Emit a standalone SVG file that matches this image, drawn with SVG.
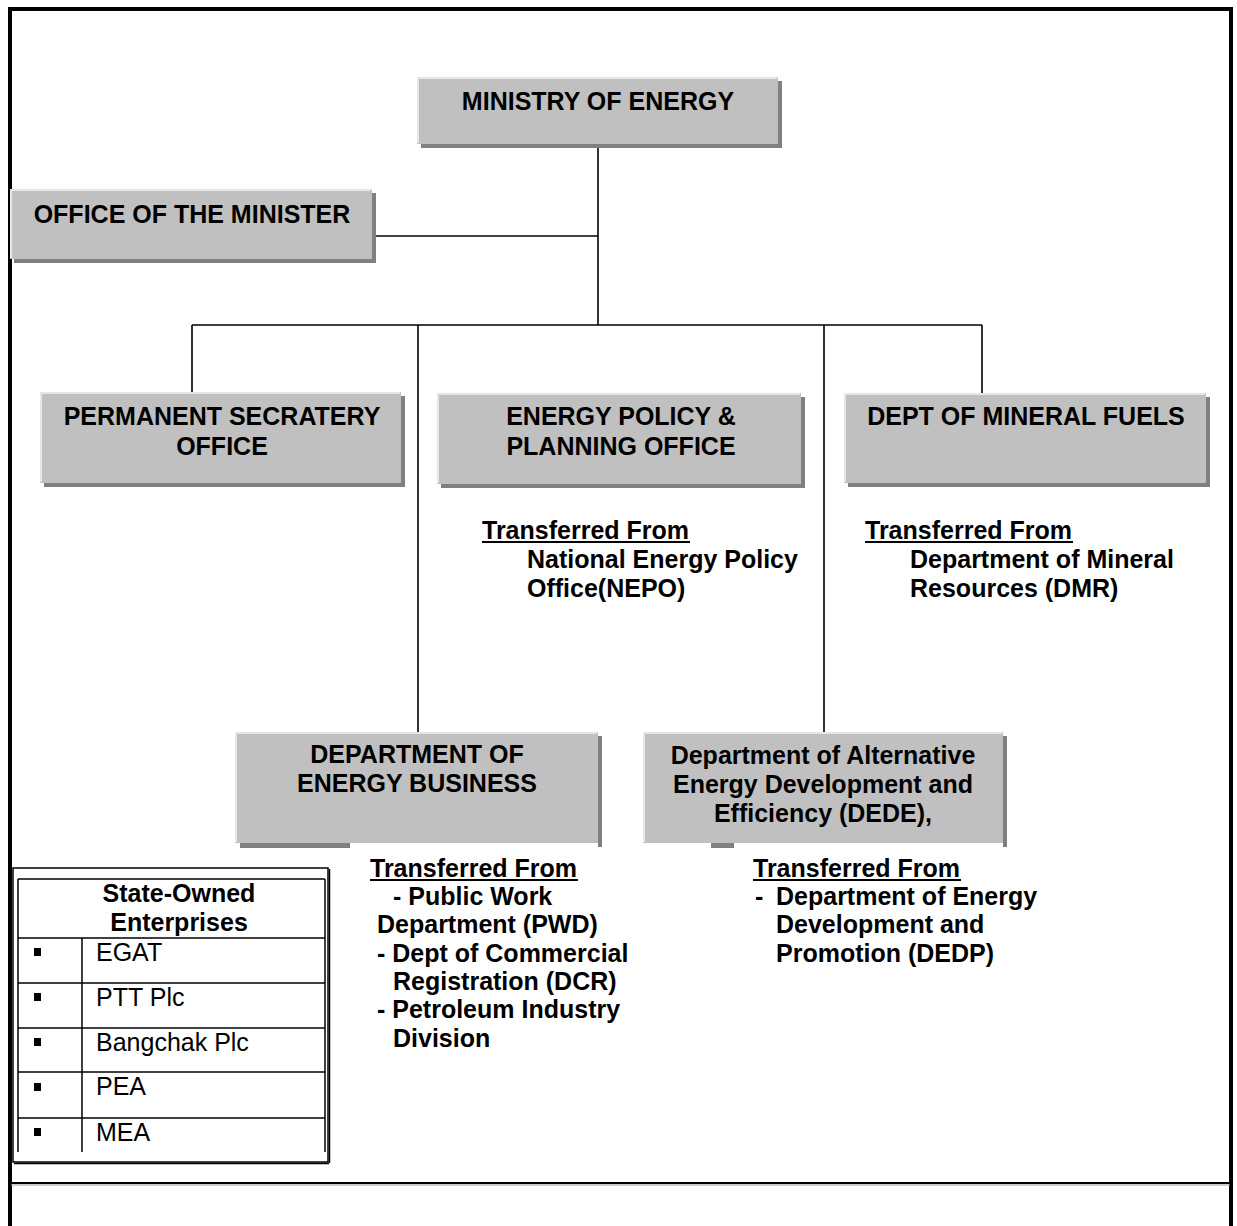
<svg xmlns="http://www.w3.org/2000/svg" width="1237" height="1226" viewBox="0 0 1237 1226">
<style>
  .box { fill: #c0c0c0; }
  .shadow { fill: #808080; }
  .hl { fill: none; stroke: #e6e6e6; stroke-width: 2; }
  .t { font-family: "Liberation Sans", Arial, sans-serif; font-size: 25px; fill: #000; }
  .b { font-weight: bold; }
  .c { text-anchor: middle; }
  .conn line { stroke: #000; stroke-width: 1.6; }
  .tbl line { stroke: #000; stroke-width: 1.5; }
  .ul { stroke: #000; stroke-width: 2; }
</style>
<rect x="0" y="0" width="1237" height="1226" fill="#ffffff"/>
<!-- outer frame -->
<g id="frame">
  <line x1="10" y1="7" x2="10" y2="1226" stroke="#000" stroke-width="4"/>
  <line x1="1231" y1="7" x2="1231" y2="1226" stroke="#000" stroke-width="4"/>
  <line x1="8" y1="9" x2="1233" y2="9" stroke="#000" stroke-width="4"/>
  <line x1="11" y1="1183" x2="1230" y2="1183" stroke="#000" stroke-width="2"/>
  <line x1="11" y1="1185" x2="1230" y2="1185" stroke="#999" stroke-width="1"/>
</g>

<!-- connectors -->
<g id="connectors" class="conn">
  <line x1="598" y1="148" x2="598" y2="325"/>
  <line x1="375" y1="236" x2="598" y2="236"/>
  <line x1="192" y1="325" x2="982" y2="325"/>
  <line x1="192" y1="325" x2="192" y2="392"/>
  <line x1="418" y1="325" x2="418" y2="732"/>
  <line x1="824" y1="325" x2="824" y2="732"/>
  <line x1="982" y1="325" x2="982" y2="393"/>
</g>

<g id="ministry">
  <rect class="shadow" x="421" y="81" width="361" height="67"/>
  <rect class="box" x="417" y="77" width="361" height="67"/>
  <polyline class="hl" points="418,143 418,78 777,78"/>
  <text class="t b c" x="598" y="110">MINISTRY OF ENERGY</text>
</g>

<g id="office-minister">
  <rect class="shadow" x="14" y="193" width="362" height="70"/>
  <rect class="box" x="10" y="189" width="362" height="70"/>
  <polyline class="hl" points="11,258 11,190 371,190"/>
  <text class="t b c" x="192" y="223">OFFICE OF THE MINISTER</text>
</g>

<g id="permanent-secretary">
  <rect class="shadow" x="44" y="396" width="361" height="91"/>
  <rect class="box" x="40" y="392" width="361" height="91"/>
  <polyline class="hl" points="41,482 41,393 400,393"/>
  <text class="t b c" x="222" y="425">PERMANENT SECRATERY</text>
  <text class="t b c" x="222" y="455">OFFICE</text>
</g>

<g id="energy-policy">
  <rect class="shadow" x="441" y="397" width="364" height="91"/>
  <rect class="box" x="437" y="393" width="364" height="91"/>
  <polyline class="hl" points="438,483 438,394 800,394"/>
  <text class="t b c" x="621" y="425">ENERGY POLICY &amp;</text>
  <text class="t b c" x="621" y="455">PLANNING OFFICE</text>
</g>

<g id="mineral-fuels">
  <rect class="shadow" x="848" y="397" width="362" height="90"/>
  <rect class="box" x="844" y="393" width="362" height="90"/>
  <polyline class="hl" points="845,482 845,394 1205,394"/>
  <text class="t b c" x="1026" y="425">DEPT OF MINERAL FUELS</text>
</g>

<g id="energy-business">
  <rect class="shadow" x="598" y="736" width="4" height="111"/>
  <rect class="shadow" x="240" y="843" width="110" height="5"/>
  <rect class="box" x="235" y="732" width="363" height="111"/>
  <polyline class="hl" points="236,842 236,733 597,733"/>
  <text class="t b c" x="417" y="763">DEPARTMENT OF</text>
  <text class="t b c" x="417" y="792">ENERGY BUSINESS</text>
</g>

<g id="dede">
  <rect class="shadow" x="1003" y="736" width="4" height="111"/>
  <rect class="shadow" x="711" y="843" width="23" height="5"/>
  <rect class="box" x="643" y="732" width="360" height="111"/>
  <polyline class="hl" points="644,842 644,733 1002,733"/>
  <text class="t b c" x="823" y="764">Department of Alternative</text>
  <text class="t b c" x="823" y="793">Energy Development and</text>
  <text class="t b c" x="823" y="822">Efficiency (DEDE),</text>
</g>

<g id="nepo-note">
  <text class="t b" x="482" y="539">Transferred From</text>
  <line class="ul" x1="482" y1="542" x2="690" y2="542"/>
  <text class="t b" x="527" y="568">National Energy Policy</text>
  <text class="t b" x="527" y="597">Office(NEPO)</text>
</g>

<g id="dmr-note">
  <text class="t b" x="865" y="539">Transferred From</text>
  <line class="ul" x1="865" y1="542" x2="1073" y2="542"/>
  <text class="t b" x="910" y="568">Department of Mineral</text>
  <text class="t b" x="910" y="597">Resources (DMR)</text>
</g>

<g id="business-note">
  <text class="t b" x="370" y="877">Transferred From</text>
  <line class="ul" x1="370" y1="880" x2="578" y2="880"/>
  <text class="t b" x="393" y="905">- Public Work</text>
  <text class="t b" x="377" y="933">Department (PWD)</text>
  <text class="t b" x="377" y="962">- Dept of Commercial</text>
  <text class="t b" x="393" y="990">Registration (DCR)</text>
  <text class="t b" x="377" y="1018">- Petroleum Industry</text>
  <text class="t b" x="393" y="1047">Division</text>
</g>

<g id="dede-note">
  <text class="t b" x="753" y="877">Transferred From</text>
  <line class="ul" x1="753" y1="880" x2="961" y2="880"/>
  <text class="t b" x="755" y="905">-</text>
  <text class="t b" x="776" y="905">Department of Energy</text>
  <text class="t b" x="776" y="933">Development and</text>
  <text class="t b" x="776" y="962">Promotion (DEDP)</text>
</g>

<g id="state-owned-enterprises" class="tbl">
  <rect x="13" y="868" width="315" height="294" fill="none" stroke="#000" stroke-width="1.5"/>
  <line x1="14" y1="1163.5" x2="329" y2="1163.5" stroke="#999" stroke-width="1"/>
  <line x1="329.5" y1="869" x2="329.5" y2="1163" stroke="#999" stroke-width="1"/>
  <line x1="18" y1="879" x2="325" y2="879"/>
  <line x1="18" y1="879" x2="18" y2="1152"/>
  <line x1="325" y1="879" x2="325" y2="1152"/>
  <line x1="18" y1="938" x2="325" y2="938"/>
  <line x1="18" y1="983" x2="325" y2="983"/>
  <line x1="18" y1="1028" x2="325" y2="1028"/>
  <line x1="18" y1="1072" x2="325" y2="1072"/>
  <line x1="18" y1="1118" x2="325" y2="1118"/>
  <line x1="82" y1="938" x2="82" y2="1152"/>
  <text class="t b c" x="179" y="902">State-Owned</text>
  <text class="t b c" x="179" y="931">Enterprises</text>
  <rect x="34" y="948" width="7" height="8" fill="#000"/>
  <rect x="34" y="993" width="7" height="8" fill="#000"/>
  <rect x="34" y="1038" width="7" height="8" fill="#000"/>
  <rect x="34" y="1083" width="7" height="8" fill="#000"/>
  <rect x="34" y="1128" width="7" height="8" fill="#000"/>
  <text class="t" x="96" y="961">EGAT</text>
  <text class="t" x="96" y="1006">PTT Plc</text>
  <text class="t" x="96" y="1051">Bangchak Plc</text>
  <text class="t" x="96" y="1095">PEA</text>
  <text class="t" x="96" y="1141">MEA</text>
</g>
</svg>
